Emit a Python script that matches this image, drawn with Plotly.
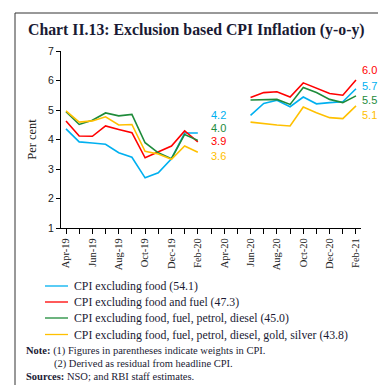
import plotly.graph_objects as go

months = ["Apr-19", "May-19", "Jun-19", "Jul-19", "Aug-19", "Sep-19", "Oct-19", "Nov-19",
          "Dec-19", "Jan-20", "Feb-20", "Mar-20", "Apr-20", "May-20", "Jun-20", "Jul-20",
          "Aug-20", "Sep-20", "Oct-20", "Nov-20", "Dec-20", "Jan-21", "Feb-21"]

excl_food = [4.36, 3.92, 3.88, 3.84, 3.55, 3.40, 2.70, 2.87, 3.35, 4.22, 4.22,
             None, None, None,
             4.82, 5.22, 5.33, 5.11, 5.44, 5.21, 5.25, 5.28, 5.72]
excl_food_fuel = [4.63, 4.12, 4.11, 4.46, 4.34, 4.23, 3.38, 3.57, 3.78, 4.29, 3.92,
                  None, None, None,
                  5.42, 5.59, 5.62, 5.44, 5.92, 5.73, 5.56, 5.50, 6.02]
excl_petrol_diesel = [4.94, 4.51, 4.65, 4.90, 4.80, 4.85, 3.89, 3.55, 3.35, 4.17, 3.97,
                      None, None, None,
                      5.34, 5.36, 5.36, 5.19, 5.76, 5.59, 5.36, 5.25, 5.48]
excl_gold_silver = [4.97, 4.59, 4.63, 4.77, 4.49, 4.51, 3.60, 3.51, 3.33, 3.78, 3.57,
                    None, None, None,
                    4.59, 4.53, 4.49, 4.46, 5.10, 4.91, 4.74, 4.71, 5.14]

series_names = ["CPI excluding food (54.1)",
                "CPI excluding food and fuel (47.3)",
                "CPI excluding food, fuel, petrol, diesel (45.0)",
                "CPI excluding food, fuel, petrol, diesel, gold, silver (43.8)"]
series_values = [excl_food, excl_food_fuel, excl_petrol_diesel, excl_gold_silver]
colors = ["#00B0F0", "#FF0000", "#1E8B3A", "#FFC000"]

tick_labels = [m if i % 2 == 0 else "" for i, m in enumerate(months)]
x_idx = list(range(len(months)))

SERIF = "Liberation Serif"
SANS = "Liberation Sans"
TEXT = "#1a1a33"

# plot-area pixel geometry helpers (for paper-coordinate placement of texts)
L, R, T, B = 53, 353, 43, 220
def px(x):
    return (x - L) / (R - L)
def py(y):
    return (B - y) / (B - T)

fig = go.Figure()
for name, vals, col in zip(series_names, series_values, colors):
    fig.add_trace(go.Scatter(x=x_idx, y=vals, mode="lines", name=name,
                             line=dict(color=col, width=1.6), connectgaps=False,
                             showlegend=False))

# end labels
left_shift = [18, 1, 12, -4]
right_shift = [3, 10, -4, -9]
for vals, col, ls, rs in zip(series_values, colors, left_shift, right_shift):
    i_mid = 10
    fig.add_annotation(x=i_mid, y=vals[i_mid], text=f"{vals[i_mid]:.1f}", showarrow=False,
                       xanchor="left", yanchor="middle", xshift=11, yshift=ls,
                       font=dict(family=SANS, size=11, color=col))
    i_end = len(vals) - 1
    fig.add_annotation(x=i_end, y=vals[i_end], text=f"{vals[i_end]:.1f}", showarrow=False,
                       xanchor="left", yanchor="middle", xshift=4, yshift=rs,
                       font=dict(family=SANS, size=11, color=col))

# legend (drawn manually for compact spacing)
legend_y = [278, 294, 310, 326.5]
for name, col, ly in zip(series_names, colors, legend_y):
    fig.add_shape(type="line", xref="paper", yref="paper",
                  x0=px(37), x1=px(60), y0=py(ly), y1=py(ly),
                  line=dict(color=col, width=1.3))
    fig.add_annotation(xref="paper", yref="paper", x=px(64), y=py(ly), xanchor="left",
                       yanchor="middle", showarrow=False, text=name,
                       font=dict(family=SERIF, size=11.8, color=TEXT))

# title
fig.add_annotation(xref="paper", yref="paper", x=px(18), y=py(22), xanchor="left", yanchor="middle",
                   text="<b>Chart II.13: Exclusion based CPI Inflation (y-o-y)</b>", showarrow=False,
                   font=dict(family=SERIF, size=15.8, color=TEXT))

# notes
note_font = dict(family=SERIF, size=10.5, color=TEXT)
fig.add_annotation(xref="paper", yref="paper", x=px(16), y=py(343), xanchor="left",
                   yanchor="middle", showarrow=False, font=note_font,
                   text="<b>Note:</b> (1) Figures in parentheses indicate weights in CPI.")
fig.add_annotation(xref="paper", yref="paper", x=px(44), y=py(356), xanchor="left",
                   yanchor="middle", showarrow=False, font=note_font,
                   text="(2) Derived as residual from headline CPI.")
fig.add_annotation(xref="paper", yref="paper", x=px(16), y=py(368), xanchor="left",
                   yanchor="middle", showarrow=False, font=note_font,
                   text="<b>Sources:</b> NSO; and RBI staff estimates.")

# frame
fig.add_shape(type="rect", xref="paper", yref="paper",
              x0=px(7), x1=px(379), y0=py(377.5), y1=py(5),
              line=dict(color="#333333", width=1))

fig.update_layout(
    width=386, height=385,
    margin=dict(l=L, r=386 - R, t=T, b=385 - B),
    paper_bgcolor="white", plot_bgcolor="white",
    showlegend=False,
    xaxis=dict(range=[-0.38, 22.38], tickmode="array", tickvals=x_idx, ticktext=tick_labels,
               tickangle=-90, ticks="outside", ticklen=5, tickcolor="black",
               showline=True, linecolor="black", linewidth=1, showgrid=False, zeroline=False,
               tickfont=dict(family=SERIF, size=10.5, color="#222222")),
    yaxis=dict(range=[1, 7], dtick=1, ticks="outside", ticklen=4, tickcolor="black",
               showline=True, linecolor="black", linewidth=1, showgrid=False, zeroline=False,
               tickfont=dict(family=SANS, size=10.5, color="#222222"),
               title=dict(text="Per cent", standoff=8,
                          font=dict(family=SERIF, size=12.5, color="#222222"))),
)

fig.write_html("out.html")
